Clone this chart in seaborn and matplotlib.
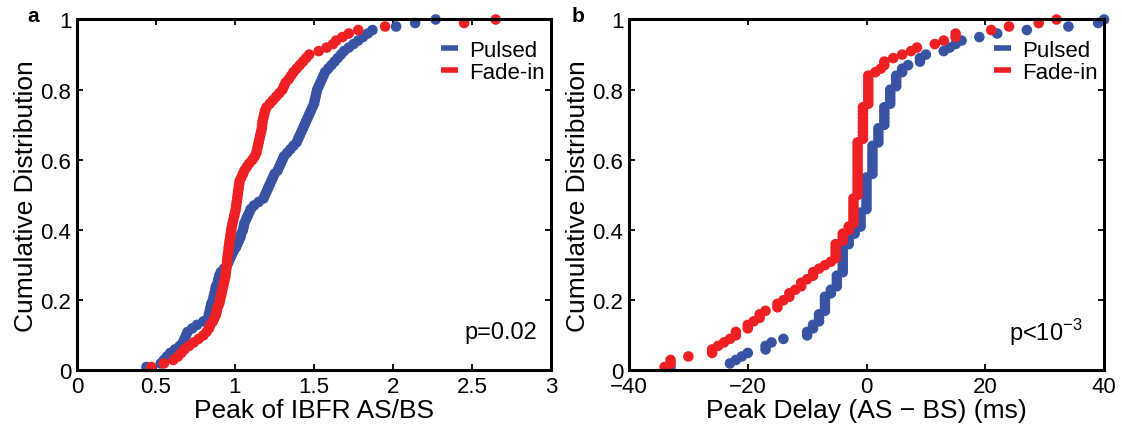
import numpy as np
import pandas as pd
import seaborn as sns
import matplotlib.pyplot as plt
from matplotlib.lines import Line2D

sns.set_style("ticks")
plt.rcParams["font.family"] = ["Liberation Sans", "DejaVu Sans"]
plt.rcParams["mathtext.fontset"] = "custom"
plt.rcParams["mathtext.rm"] = "Liberation Sans"
plt.rcParams["text.color"] = "black"
plt.rcParams["axes.labelcolor"] = "black"
plt.rcParams["axes.edgecolor"] = "black"

BLUE = "#3953A4"
RED = "#EE2024"

# panel a: peak IBFR ratio, sorted samples
ibfr_pulsed = [
    0.44, 0.53, 0.55, 0.57, 0.59, 0.62, 0.65, 0.67, 0.68, 0.69,
    0.70, 0.73, 0.76, 0.80, 0.83, 0.835, 0.84, 0.845, 0.85, 0.86,
    0.865, 0.87, 0.875, 0.88, 0.89, 0.895, 0.90, 0.91, 0.93, 0.95,
    0.96, 0.97, 0.98, 0.99, 1.005, 1.015, 1.025, 1.035, 1.04, 1.05,
    1.055, 1.06, 1.07, 1.08, 1.09, 1.10, 1.12, 1.15, 1.18, 1.19,
    1.20, 1.21, 1.22, 1.23, 1.24, 1.25, 1.27, 1.28, 1.29, 1.30,
    1.31, 1.33, 1.35, 1.37, 1.39, 1.40, 1.41, 1.42, 1.43, 1.44,
    1.45, 1.46, 1.47, 1.48, 1.49, 1.50, 1.505, 1.51, 1.515, 1.52,
    1.53, 1.54, 1.55, 1.56, 1.57, 1.59, 1.61, 1.63, 1.65, 1.67,
    1.69, 1.72, 1.75, 1.78, 1.81, 1.84, 1.87, 2.02, 2.14, 2.27,
]
ibfr_fadein = [
    0.47, 0.55, 0.61, 0.64, 0.66, 0.68, 0.71, 0.74, 0.77, 0.80,
    0.82, 0.835, 0.845, 0.86, 0.87, 0.88, 0.885, 0.89, 0.90, 0.905,
    0.91, 0.915, 0.92, 0.925, 0.93, 0.935, 0.94, 0.942, 0.945, 0.948,
    0.95, 0.952, 0.955, 0.958, 0.96, 0.963, 0.966, 0.97, 0.973, 0.976,
    0.98, 0.985, 0.99, 0.995, 1.00, 1.005, 1.008, 1.011, 1.014, 1.017,
    1.02, 1.023, 1.026, 1.03, 1.04, 1.05, 1.06, 1.075, 1.09, 1.11,
    1.125, 1.135, 1.14, 1.145, 1.15, 1.155, 1.16, 1.165, 1.17, 1.172,
    1.175, 1.18, 1.185, 1.19, 1.20, 1.22, 1.24, 1.26, 1.28, 1.30,
    1.31, 1.32, 1.34, 1.355, 1.37, 1.39, 1.41, 1.43, 1.45, 1.47,
    1.53, 1.58, 1.62, 1.64, 1.68, 1.72, 1.78, 1.95, 2.45, 2.65,
]

# panel b: peak delay (ms), distinct values and how many cells share each
delay_pulsed = [-33, -23, -22, -21, -20, -17, -16, -14, -10, -9, -8, -7, -6, -5,
                -4, -3, -2, -1, 0, 1, 2, 3, 4, 5, 6, 7, 9, 10, 13, 14, 15, 16,
                19, 22, 27, 34, 39, 40]
count_pulsed = [1, 1, 1, 1, 1, 2, 1, 1, 2, 2, 3, 5, 2, 4,
                8, 3, 2, 5, 10, 9, 5, 6, 5, 4, 2, 1, 2, 1, 1, 1, 1, 1,
                1, 1, 1, 1, 1, 1]
delay_fadein = [-34, -33, -30, -26, -25, -24, -23, -22, -20, -19, -18, -17, -15,
                -14, -13, -12, -11, -10, -9, -8, -7, -6, -5.2, -4, -3, -2.2,
                -1.5, -0.6, 0.3, 1.5, 2.4, 3, 4.5, 6, 7.5, 8.5, 11.5, 13, 15,
                21, 24, 29, 32]
count_fadein = [1, 2, 1, 2, 1, 1, 1, 2, 2, 1, 2, 1, 2,
                1, 2, 1, 2, 1, 2, 1, 1, 1, 5, 3, 2, 8,
                16, 10, 9, 1, 1, 2, 1, 1, 1, 1, 1, 1, 2,
                1, 1, 1, 1]

labels = ["Pulsed", "Fade-in"]
palette = {"Pulsed": BLUE, "Fade-in": RED}


def ecdf_frame(pulsed, fadein):
    df = pd.concat([
        pd.DataFrame({"value": pulsed, "cond": "Pulsed"}),
        pd.DataFrame({"value": fadein, "cond": "Fade-in"}),
    ], ignore_index=True)
    g = df.groupby("cond")["value"]
    df["cdf"] = g.rank(method="first") / g.transform("size")
    return df


df_a = ecdf_frame(ibfr_pulsed, ibfr_fadein)
df_b = ecdf_frame(np.repeat(delay_pulsed, count_pulsed),
                  np.repeat(delay_fadein, count_fadein))

fig = plt.figure(figsize=(11.22, 4.27), dpi=100)
ax1 = fig.add_axes([0.0686, 0.130, 0.4225, 0.822])
ax2 = fig.add_axes([0.5606, 0.130, 0.4234, 0.822])

for ax, df in [(ax1, df_a), (ax2, df_b)]:
    sns.scatterplot(data=df, x="value", y="cdf", hue="cond", hue_order=labels[::-1],
                    palette=palette, s=58, linewidth=0, alpha=1, legend=False, ax=ax)
    ax.set_ylim(0, 1)
    ax.set_yticks([0, 0.2, 0.4, 0.6, 0.8, 1])
    ax.set_yticklabels(["0", "0.2", "0.4", "0.6", "0.8", "1"])
    ax.set_ylabel("Cumulative Distribution", fontsize=19, labelpad=2)
    ax.tick_params(direction="in", length=4, width=1.3, top=True, right=True,
                   labelsize=16, pad=4, colors="black")
    for sp in ax.spines.values():
        sp.set_linewidth(2.2)
        sp.set_color("black")
        sp.set_visible(True)
    handles = [Line2D([], [], color=palette[l], lw=4, solid_capstyle="butt") for l in labels]
    ax.legend(handles, labels, loc="upper right", frameon=False, fontsize=16,
              handlelength=0.75, handletextpad=0.5, labelspacing=0.05,
              borderaxespad=0.2, bbox_to_anchor=(1.015, 0.98))
    for c in ax.collections:
        c.set_clip_on(False)

ax1.set_xlim(0, 3)
ax1.set_xticks([0, 0.5, 1, 1.5, 2, 2.5, 3])
ax1.set_xticklabels(["0", "0.5", "1", "1.5", "2", "2.5", "3"])
ax1.set_xlabel("Peak of IBFR AS/BS", fontsize=19, labelpad=1)
ax1.text(0.97, 0.11, "p=0.02", transform=ax1.transAxes, ha="right", va="center", fontsize=17)

ax2.set_xlim(-40, 40)
ax2.set_xticks([-40, -20, 0, 20, 40])
ax2.set_xlabel("Peak Delay (AS \u2212 BS) (ms)", fontsize=19, labelpad=1)
ax2.text(0.954, 0.11, r"p<10$^{\mathregular{-3}}$", transform=ax2.transAxes,
         ha="right", va="center", fontsize=17)

fig.text(33 / 1122, 1 - 17 / 427, "a", fontsize=15, fontweight="bold", ha="center", va="center")
fig.text(578 / 1122, 1 - 17 / 427, "b", fontsize=15, fontweight="bold", ha="center", va="center")

fig.savefig("out.png", dpi=100)
